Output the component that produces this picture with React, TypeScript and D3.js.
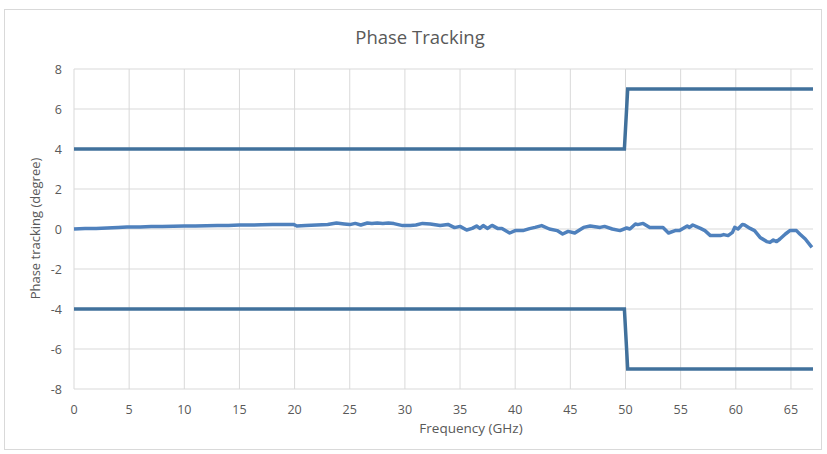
import React from "react";
import * as d3 from "d3";

const freq = [0,1,2,3,4,4.8,6,7,8,9,10,11,12,13,14,15,16,17,18,19,19.9,20.2,21,22,23,23.8,24.5,25,25.5,26,26.6,27,27.5,28,28.5,29,29.8,30.5,31,31.6,32.3,33.2,33.9,34.5,35,35.6,36.1,36.5,36.8,37.1,37.5,37.9,38.4,38.8,39.5,40,40.7,41.3,41.8,42.4,43.1,43.8,44.3,44.8,45.4,46.2,46.8,47.7,48.1,48.8,49.5,50.1,50.4,50.9,51.1,51.6,52.2,53.4,53.9,54.5,54.9,55.6,55.8,56.1,56.8,57.2,57.7,58.6,58.9,59.3,59.7,59.9,60.2,60.6,60.8,61.3,61.7,62.2,62.8,63.1,63.4,63.7,64,64.5,64.9,65.5,65.8,66.3,66.9];
const phase = [0,0.02,0.03,0.05,0.08,0.1,0.1,0.12,0.13,0.14,0.15,0.15,0.16,0.17,0.18,0.2,0.2,0.21,0.22,0.23,0.23,0.15,0.18,0.2,0.23,0.3,0.25,0.22,0.28,0.2,0.3,0.27,0.3,0.28,0.3,0.27,0.17,0.18,0.2,0.28,0.25,0.17,0.23,0.07,0.13,-0.05,0.03,0.15,0.03,0.17,0.03,0.18,0.03,0.03,-0.2,-0.08,-0.08,0.02,0.08,0.17,0,-0.08,-0.25,-0.12,-0.2,0.08,0.15,0.08,0.13,0,-0.08,0.05,0,0.25,0.22,0.28,0.08,0.07,-0.2,-0.08,-0.08,0.15,0.08,0.2,0.03,-0.08,-0.33,-0.33,-0.28,-0.33,-0.17,0.08,0,0.23,0.2,0.03,-0.08,-0.42,-0.63,-0.67,-0.55,-0.63,-0.5,-0.25,-0.08,-0.08,-0.25,-0.5,-0.92];

const limitFreq = [0, 49.9, 50.2, 67];
const upperLimit = [4, 4, 7, 7];
const lowerLimit = [-4, -4, -7, -7];

const xTicks = [0,5,10,15,20,25,30,35,40,45,50,55,60,65];
const yTicks = [-8,-6,-4,-2,0,2,4,6,8];

const title = "Phase Tracking";
const xTitle = "Frequency (GHz)";
const yTitle = "Phase tracking (degree)";

export default function App() {
  const W = 827, H = 454;
  const left = 74, right = 813, top = 69, bottom = 389;
  const x = d3.scaleLinear().domain([0, 67]).range([left, right]);
  const y = d3.scaleLinear().domain([-8, 8]).range([bottom, top]);
  const line = d3.line<[number, number]>().x(d => x(d[0])).y(d => y(d[1]));
  const dataPts = freq.map((f, i) => [f, phase[i]] as [number, number]);
  const upPts = limitFreq.map((f, i) => [f, upperLimit[i]] as [number, number]);
  const loPts = limitFreq.map((f, i) => [f, lowerLimit[i]] as [number, number]);
  const font = "Open Sans, Liberation Sans, sans-serif";
  const textCol = "#595959";
  return (
    <svg width={W} height={H} style={{ position: "absolute", left: 0, top: 0 }}>
      <rect x={0} y={0} width={W} height={H} fill="#fff" />
      <rect x={4.5} y={9.5} width={817} height={440} fill="#fff" stroke="#d9d9d9" />
      {yTicks.map(t => (
        <line key={"gy" + t} x1={left} x2={right} y1={y(t)} y2={y(t)} stroke="#d9d9d9" strokeWidth={1} />
      ))}
      {xTicks.map(t => (
        <line key={"gx" + t} x1={x(t)} x2={x(t)} y1={top} y2={bottom} stroke="#d9d9d9" strokeWidth={1} />
      ))}
      {yTicks.map(t => (
        <text key={"ty" + t} x={62} y={y(t) + 4.5} textAnchor="end" fontSize={12.5} fill={textCol} fontFamily={font}>{t}</text>
      ))}
      {xTicks.map(t => (
        <text key={"tx" + t} x={x(t)} y={414} textAnchor="middle" fontSize={12.5} fill={textCol} fontFamily={font}>{t}</text>
      ))}
      <path d={line(upPts) || ""} fill="none" stroke="#41719c" strokeWidth={3.5} />
      <path d={line(loPts) || ""} fill="none" stroke="#41719c" strokeWidth={3.5} />
      <path d={line(dataPts) || ""} fill="none" stroke="#4f81bd" strokeWidth={3.5} strokeLinejoin="round" />
      <text x={420} y={44} textAnchor="middle" fontSize={18.5} fill={textCol} fontFamily={font}>{title}</text>
      <text x={471} y={433} textAnchor="middle" fontSize={13.5} fill={textCol} fontFamily={font}>{xTitle}</text>
      <text transform={`translate(40,${228.5}) rotate(-90)`} textAnchor="middle" fontSize={13} fill={textCol} fontFamily={font}>{yTitle}</text>
    </svg>
  );
}
